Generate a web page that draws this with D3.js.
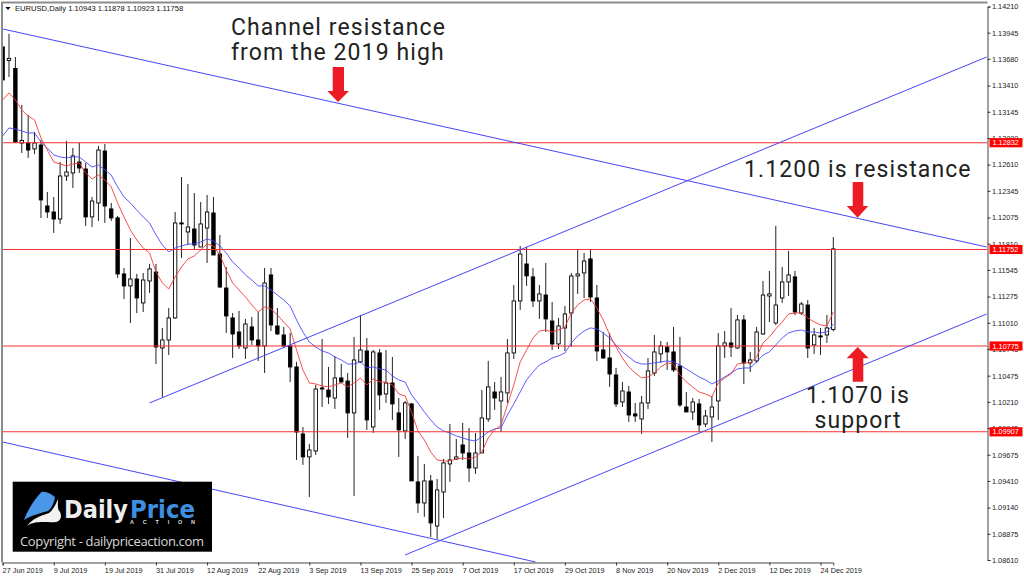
<!DOCTYPE html>
<html>
<head>
<meta charset="utf-8">
<script src="https://d3js.org/d3.v7.min.js"></script>
<style>
html,body{margin:0;padding:0;background:#fff;overflow:hidden}
svg{display:block}
</style>
</head>
<body>
<div id="chart"></div>
<script>
var tickLabels = ["27 Jun 2019","9 Jul 2019","19 Jul 2019","31 Jul 2019","12 Aug 2019","22 Aug 2019","3 Sep 2019","13 Sep 2019","25 Sep 2019","7 Oct 2019","17 Oct 2019","29 Oct 2019","8 Nov 2019","20 Nov 2019","2 Dec 2019","12 Dec 2019","24 Dec 2019"];
var tickBars = [0,8,16,24,32,40,48,56,64,72,80,88,96,104,112,120,128];
var priceTicks = [1.14210,1.13945,1.13680,1.13410,1.13145,1.12880,1.12610,1.12345,1.12075,1.11810,1.11545,1.11275,1.11010,1.10745,1.10475,1.10210,1.09945,1.09675,1.09410,1.09140,1.08875,1.08610];
var levels = [1.12832,1.11752,1.10775,1.09907];

var opens = [
1.13801,1.13664,1.13583,1.12829,1.12829,1.12769,1.12809,1.12192,1.12131,1.12060,
1.12495,1.12526,1.12637,1.12566,1.12081,1.12222,1.12748,1.12162,1.12071,1.11504,
1.11383,1.11453,1.11211,1.11433,1.11524,1.10755,1.10836,1.11059,1.12020,1.11929,
1.11959,1.11777,1.11969,1.12121,1.11706,1.11362,1.11059,1.10917,1.10755,1.10968,
1.10836,1.10776,1.11494,1.10978,1.10887,1.10776,1.10563,1.09885,1.09653,1.09713,
1.10351,1.10330,1.10249,1.10452,1.10421,1.10098,1.10614,1.10725,1.09956,1.10705,
1.10290,1.10401,1.10098,1.09916,1.10189,1.09400,1.09187,1.09410,1.08954,1.09298,
1.09582,1.09632,1.09774,1.09693,1.09541,1.09693,1.10037,1.10310,1.10219,1.10300,
1.10705,1.11231,1.11605,1.11474,1.11231,1.11291,1.11028,1.10796,1.10958,1.11109,
1.11484,1.11514,1.11656,1.11261,1.10735,1.10654,1.10482,1.10209,1.10310,1.10088,
1.10037,1.10199,1.10502,1.10695,1.10765,1.10715,1.10573,1.10158,1.10108,1.10189,
1.09986,1.10057,1.10219,1.10776,1.10806,1.10755,1.11039,1.10604,1.10624,1.10897,
1.11281,1.11008,1.11261,1.11423,1.11474,1.11109,1.11190,1.10786,1.10877,1.10887,
1.10943];
var highs = [
1.13811,1.13932,1.13699,1.13214,1.13113,1.12941,1.12860,1.12334,1.12283,1.12637,
1.12850,1.12779,1.12829,1.12627,1.12283,1.12799,1.12819,1.12222,1.12091,1.11565,
1.11868,1.11504,1.11514,1.11605,1.11605,1.10958,1.11160,1.12131,1.12485,1.12414,
1.12323,1.12232,1.12303,1.12283,1.11899,1.11575,1.11109,1.11130,1.11049,1.11069,
1.11119,1.11565,1.11565,1.11160,1.10968,1.10907,1.10614,1.09956,1.09784,1.10381,
1.10846,1.10563,1.10674,1.10593,1.10502,1.10867,1.11089,1.10856,1.10735,1.10745,
1.10735,1.10664,1.10249,1.10219,1.10199,1.09663,1.09582,1.09470,1.09430,1.09632,
1.09986,1.09835,1.09997,1.09946,1.09895,1.10330,1.10624,1.10411,1.10462,1.10846,
1.11393,1.11787,1.11777,1.11565,1.11393,1.11615,1.11221,1.11059,1.11180,1.11514,
1.11757,1.11716,1.11757,1.11393,1.10917,1.10907,1.10553,1.10411,1.10371,1.10199,
1.10270,1.10654,1.10887,1.10826,1.10816,1.10968,1.10867,1.10310,1.10249,1.10239,
1.10128,1.10270,1.10907,1.10927,1.11160,1.11089,1.11089,1.10715,1.10968,1.11433,
1.11534,1.11990,1.11575,1.11737,1.11534,1.11221,1.11241,1.10958,1.10958,1.11089,
1.11878];
var lows = [
1.13467,1.13497,1.12829,1.12728,1.12678,1.12718,1.12071,1.12071,1.11919,1.12010,
1.12445,1.12374,1.12526,1.11990,1.11979,1.12040,1.12020,1.12040,1.11464,1.11251,
1.11008,1.11109,1.11119,1.11312,1.10593,1.10260,1.10684,1.11049,1.11666,1.11797,
1.11757,1.11777,1.11615,1.11696,1.11362,1.10907,1.10654,1.10745,1.10644,1.10786,
1.10624,1.10502,1.10927,1.10887,1.10755,1.10411,1.09622,1.09572,1.09248,1.09673,
1.10158,1.10189,1.10138,1.10401,1.09845,1.09258,1.10604,1.09926,1.09895,1.10128,
1.10199,1.10027,1.09653,1.09835,1.09420,1.09086,1.09046,1.08843,1.08823,1.09035,
1.09400,1.09622,1.09622,1.09400,1.09481,1.09693,1.10007,1.10128,1.09905,1.10199,
1.10644,1.11140,1.11383,1.11170,1.11049,1.10917,1.10735,1.10745,1.10725,1.10765,
1.11302,1.11261,1.11221,1.10624,1.10644,1.10361,1.10158,1.10158,1.10007,1.10007,
1.09885,1.10138,1.10472,1.10604,1.10533,1.10512,1.10158,1.10108,1.10027,1.09905,
1.09956,1.09804,1.10027,1.10654,1.10664,1.10745,1.10391,1.10512,1.10604,1.10887,
1.11018,1.10988,1.11211,1.11281,1.11089,1.11089,1.10654,1.10695,1.10684,1.10806,
1.10923];
var closes = [
1.13467,1.13684,1.12839,1.12855,1.12758,1.12829,1.12253,1.12131,1.12060,1.12495,
1.12536,1.12698,1.12576,1.12081,1.12242,1.12758,1.12192,1.12071,1.11504,1.11383,
1.11453,1.11261,1.11443,1.11555,1.10765,1.10836,1.11059,1.12020,1.12010,1.11979,
1.11797,1.12010,1.12131,1.11696,1.11372,1.11079,1.10897,1.10776,1.10998,1.10836,
1.10776,1.11413,1.10988,1.10897,1.10776,1.10563,1.09905,1.09653,1.09723,1.10340,
1.10340,1.10260,1.10452,1.10411,1.10098,1.10634,1.10735,1.10027,1.10715,1.10280,
1.10401,1.10189,1.09926,1.10199,1.09410,1.09187,1.09410,1.08985,1.09319,1.09592,
1.09622,1.09653,1.09693,1.09541,1.09693,1.10047,1.10361,1.10249,1.10310,1.10705,
1.11231,1.11706,1.11484,1.11231,1.11302,1.11049,1.10796,1.10978,1.11099,1.11484,
1.11504,1.11635,1.11271,1.10725,1.10654,1.10492,1.10189,1.10320,1.10077,1.10067,
1.10199,1.10523,1.10715,1.10776,1.10715,1.10533,1.10179,1.10108,1.10209,1.09976,
1.10067,1.10158,1.10776,1.10806,1.10765,1.11039,1.10604,1.10634,1.10917,1.11291,
1.11302,1.11190,1.11423,1.11494,1.11119,1.11200,1.10755,1.10887,1.10867,1.10958,
1.11758];
var fastMa = [
1.13264,1.13335,1.13264,1.13163,1.13102,1.13062,1.12880,1.12758,1.12637,1.12617,
1.12597,1.12617,1.12627,1.12526,1.12465,1.12505,1.12455,1.12384,1.12222,1.12081,
1.11949,1.11848,1.11767,1.11716,1.11524,1.11413,1.11352,1.11474,1.11575,1.11656,
1.11686,1.11747,1.11807,1.11787,1.11696,1.11544,1.11413,1.11342,1.11271,1.11190,
1.11119,1.11170,1.11150,1.11089,1.11018,1.10948,1.10735,1.10533,1.10401,1.10391,
1.10371,1.10361,1.10381,1.10401,1.10361,1.10401,1.10452,1.10381,1.10442,1.10411,
1.10411,1.10381,1.10290,1.10270,1.10108,1.09916,1.09825,1.09703,1.09622,1.09612,
1.09612,1.09632,1.09642,1.09632,1.09653,1.09703,1.09845,1.09926,1.09976,1.10179,
1.10381,1.10614,1.10735,1.10856,1.10927,1.10937,1.10917,1.10937,1.10968,1.11109,
1.11190,1.11241,1.11251,1.11160,1.11039,1.10887,1.10765,1.10654,1.10563,1.10502,
1.10452,1.10462,1.10502,1.10563,1.10604,1.10593,1.10482,1.10411,1.10361,1.10310,
1.10290,1.10260,1.10401,1.10452,1.10492,1.10593,1.10604,1.10604,1.10664,1.10806,
1.10867,1.10948,1.11018,1.11099,1.11109,1.11109,1.11059,1.11018,1.10988,1.10978,
1.11119];
var slowMa = [
1.12900,1.12981,1.12971,1.12951,1.12930,1.12930,1.12839,1.12779,1.12708,1.12688,
1.12678,1.12688,1.12688,1.12637,1.12586,1.12607,1.12556,1.12505,1.12384,1.12283,
1.12222,1.12151,1.12081,1.12020,1.11899,1.11797,1.11727,1.11767,1.11787,1.11807,
1.11807,1.11828,1.11858,1.11838,1.11787,1.11716,1.11625,1.11565,1.11494,1.11443,
1.11383,1.11383,1.11342,1.11291,1.11241,1.11180,1.11039,1.10917,1.10816,1.10765,
1.10725,1.10705,1.10664,1.10634,1.10593,1.10593,1.10614,1.10553,1.10563,1.10543,
1.10533,1.10472,1.10432,1.10411,1.10280,1.10199,1.10108,1.10027,1.09956,1.09916,
1.09895,1.09865,1.09845,1.09825,1.09814,1.09855,1.09905,1.09936,1.09946,1.10077,
1.10189,1.10310,1.10432,1.10512,1.10583,1.10614,1.10654,1.10674,1.10705,1.10806,
1.10877,1.10927,1.10958,1.10948,1.10907,1.10856,1.10786,1.10715,1.10664,1.10614,
1.10593,1.10593,1.10604,1.10614,1.10624,1.10614,1.10583,1.10543,1.10502,1.10462,
1.10432,1.10391,1.10421,1.10462,1.10502,1.10543,1.10553,1.10553,1.10614,1.10684,
1.10715,1.10786,1.10856,1.10907,1.10927,1.10937,1.10917,1.10917,1.10907,1.10917,
1.10998];

// channel lines, [bar, price] at each end
var channelTop = [[0,1.13983],[154,1.11777]];
var channelMid = [[23,1.10199],[154,1.13699]];
var supportLine = [[63,1.08661],[154,1.11099]];
var lowerLine = [[0,1.09804],[83.4,1.08590]];

var width = 1024, height = 579;
var frame = {left:2,right:987.5,top:2.5,bottom:562.5};
var svg = d3.select("#chart").append("svg")
  .attr("width",width)
  .attr("height",height)
  .style("font-family","'Liberation Sans',Arial,sans-serif");

var x = d3.scaleLinear().domain([0,130]).range([2.6,833.3]);
var y = d3.scaleLinear().domain([1.0861,1.1421]).range([560,6.5]);

svg.append("clipPath").attr("id","plot").append("rect")
  .attr("x",frame.left).attr("y",frame.top)
  .attr("width",frame.right-frame.left).attr("height",frame.bottom-frame.top);

var plot = svg.append("g").attr("clip-path","url(#plot)");

// candles
var candles = plot.append("g").selectAll("g")
  .data(opens.map((d,i)=>i))
  .enter().append("g");
candles.append("line")
  .attr("x1",i=>x(i)).attr("x2",i=>x(i))
  .attr("y1",i=>y(highs[i])).attr("y2",i=>y(lows[i]))
  .attr("stroke","#222").attr("stroke-width",1);
candles.append("rect")
  .attr("x",i=>x(i)-1.7)
  .attr("width",3.4)
  .attr("y",i=>y(Math.max(opens[i],closes[i])))
  .attr("height",i=>Math.max(0.6,Math.abs(y(opens[i])-y(closes[i]))))
  .attr("fill",i=>closes[i]>opens[i] ? "#fff" : "#000")
  .attr("stroke","#000").attr("stroke-width",0.9);

// moving averages
var maLine = d3.line().x((d,i)=>x(i)).y(d=>y(d));
plot.append("path").attr("d",maLine(slowMa)).attr("fill","none").attr("stroke","#4a4aff").attr("stroke-width",0.9);
plot.append("path").attr("d",maLine(fastMa)).attr("fill","none").attr("stroke","#f53a3a").attr("stroke-width",0.9);

// horizontal levels
plot.selectAll(".level").data(levels).enter().append("line")
  .attr("class","level")
  .attr("x1",frame.left).attr("x2",frame.right)
  .attr("y1",d=>y(d)).attr("y2",d=>y(d))
  .attr("stroke","#f32f2f").attr("stroke-width",1.1);

// channel lines
var segLine = d3.line().x(d=>x(d[0])).y(d=>y(d[1]));
[channelTop,channelMid,supportLine,lowerLine].forEach(function(seg){
  plot.append("path").attr("d",segLine(seg)).attr("fill","none")
    .attr("stroke","#4545f5").attr("stroke-width",1);
});

// frame
svg.append("path").attr("d",`M${frame.left},${frame.bottom}V${frame.top}H${frame.right}`)
  .attr("fill","none").attr("stroke","#8c8c8c").attr("stroke-width",2);

// axes
var yAxis = svg.append("g")
  .attr("transform",`translate(${frame.right},0)`)
  .call(d3.axisRight(y).tickValues(priceTicks).tickFormat(d3.format(".5f")).tickSize(3).tickPadding(1.5));
var xAxis = svg.append("g")
  .attr("transform",`translate(0,${frame.bottom})`)
  .call(d3.axisBottom(x).tickValues(tickBars).tickFormat((d,i)=>tickLabels[i]).tickSize(3).tickPadding(2));
xAxis.selectAll("text").style("text-anchor","start").attr("dx",-0.5);
[yAxis,xAxis].forEach(function(a){
  a.selectAll("text").attr("fill","#222").style("font-size","7.3px").style("font-family","'Liberation Sans',Arial,sans-serif");
  a.selectAll("line").attr("stroke","#333");
  a.select(".domain").attr("stroke","#444").attr("stroke-width",1);
});

// level labels on the price scale
var levelTags = svg.append("g").selectAll("g").data(levels).enter().append("g")
  .attr("transform",d=>`translate(989.5,${y(d)})`);
levelTags.append("rect").attr("y",-4.6).attr("width",33).attr("height",9.2).attr("fill","#ff0000");
levelTags.append("text").attr("x",3).attr("dy","0.36em").attr("fill","#fff").style("font-size","7.3px")
  .text(d=>d3.format(".5f")(d));

// header
svg.append("path").attr("d","M5.5,7H10.5L8,10Z").attr("fill","#000");
svg.append("text").attr("x",15).attr("y",11.3).attr("fill","#111").style("font-size","7.6px")
  .text("EURUSD,Daily  1.10943 1.11878 1.10923 1.11758");

// annotations
var noteFont = "Roboto,sans-serif";
var notes = [
  {t:"Channel resistance",a:"start",px:231,py:35},
  {t:"from the 2019 high",a:"start",px:231,py:60},
  {t:"1.1200 is resistance",a:"start",px:744,py:177},
  {t:"1.1070 is",a:"middle",px:858,py:403},
  {t:"support",a:"middle",px:858,py:428}
];
svg.append("g").selectAll("text").data(notes).enter().append("text")
  .attr("x",d=>d.px).attr("y",d=>d.py)
  .attr("text-anchor",d=>d.a)
  .attr("fill","#222")
  .style("font-family",noteFont).style("font-size","23px").style("letter-spacing","1.1px")
  .text(d=>d.t);

var arrows = ["M332.7,67H344V91H349L338,102L327.3,91H332.7Z",
  "M852.7,182H863.3V206H868.3L857.6,217.7L846.7,206H852.7Z",
  "M852.7,381.7H863.3V358.3H868.7L857.7,347L846.7,358.3H852.7Z"];
svg.append("g").selectAll("path").data(arrows).enter().append("path")
  .attr("d",d=>d).attr("fill","#ed1c24");

// logo
var logo = svg.append("g");
logo.append("rect").attr("x",12.7).attr("y",481.7).attr("width",199.3).attr("height",70).attr("fill","#000");
logo.append("path").attr("d","M24,520C29,507 35,499 41.5,492C46,491 51,494 55,497C54,503 52,508 48,511C41,513 32,515 24,520Z").attr("fill","#4a96e8");
logo.append("path").attr("d","M27,526C32,519 40,516 49,513C53,510 56,504 58,499C58,505 57,509 60,512C62,516 61,521 56,522C47,523 35,520 27,526Z").attr("fill","#f2f2f2");
logo.append("text").attr("x",64).attr("y",518).attr("fill","#eee")
  .style("font-family","'DejaVu Sans',sans-serif").style("font-weight","bold").style("font-size","25px").attr("textLength",64).attr("lengthAdjust","spacingAndGlyphs").text("Daily");
logo.append("text").attr("x",130).attr("y",518).attr("fill","#3f8fe0")
  .style("font-family","'DejaVu Sans',sans-serif").style("font-weight","bold").style("font-size","25px").attr("textLength",65).attr("lengthAdjust","spacingAndGlyphs").text("Price");
logo.append("text").attr("x",130).attr("y",523.5).attr("fill","#ddd")
  .style("font-size","5.5px").style("font-weight","bold").attr("textLength",65).text("ACTION");
logo.append("text").attr("x",20).attr("y",546).attr("fill","#d8d8d8")
  .style("font-family","'Open Sans',sans-serif").style("font-size","13px").attr("textLength",184).text("Copyright - dailypriceaction.com");
</script>
</body>
</html>
